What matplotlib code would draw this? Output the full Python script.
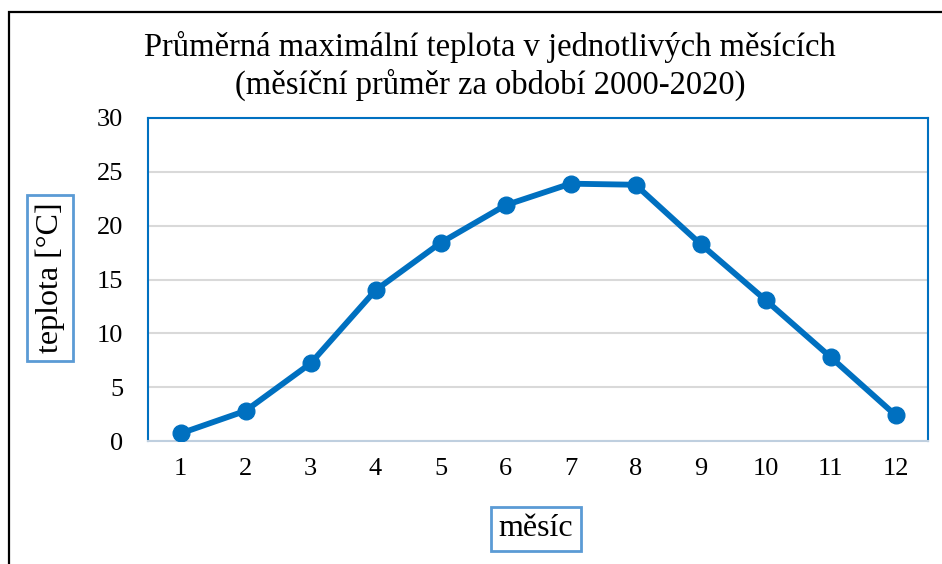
import numpy as np
import matplotlib.pyplot as plt
from matplotlib.patches import Rectangle

months = [1, 2, 3, 4, 5, 6, 7, 8, 9, 10, 11, 12]
tmax = [0.7, 2.8, 7.2, 14.0, 18.4, 21.9, 23.9, 23.8, 18.3, 13.1, 7.8, 2.4]
yticks = [0, 5, 10, 15, 20, 25, 30]

title = "Průměrná maximální teplota v jednotlivých měsících\n(měsíční průměr za období 2000-2020)"
xlabel = "měsíc"
ylabel = "teplota [°C]"

plt.rcParams["font.family"] = ["Liberation Serif", "DejaVu Serif"]

fig = plt.figure(figsize=(9.42, 5.64), dpi=100)
W, H = 942, 564
ax = fig.add_axes([148 / W, 1 - 441 / H, (928 - 148) / W, (441 - 118) / H])

ax.plot(months, tmax, color="#0070C0", linewidth=4.2, marker="o",
        markersize=12, solid_capstyle="round", zorder=3)

ax.set_xlim(0.5, 12.5)
ax.set_ylim(0, 30)
ax.set_xticks(months)
ax.set_yticks(yticks)
ax.tick_params(length=0, labelsize=19, pad=12)
ax.tick_params(axis="y", pad=18)
ax.grid(axis="y", color="#D9D9D9", linewidth=1.5)
ax.set_axisbelow(True)
for side in ["left", "top", "right"]:
    ax.spines[side].set_color("#0070C0")
    ax.spines[side].set_linewidth(1.5)
ax.spines["bottom"].set_color("#BFCFDF")
ax.spines["bottom"].set_linewidth(1.5)

fig.text(490 / W, 1 - 66 / H, title, ha="center", va="center", fontsize=23.5,
         linespacing=1.25)

box = dict(boxstyle="square,pad=0.25", facecolor="white", edgecolor="#5B9BD5", linewidth=2)
fig.text(50 / W, 1 - 278 / H, ylabel, rotation=90, ha="center", va="center",
         fontsize=23, bbox=box)
fig.text(536 / W, 1 - 529 / H, xlabel, ha="center", va="center",
         fontsize=23, bbox=box)

# outer chart border, cut off at right and bottom
fig.patches.append(Rectangle((9 / W, -0.1), 1.2, 1 - 12 / H + 0.1,
                             transform=fig.transFigure, fill=False,
                             edgecolor="black", linewidth=1.6))

fig.savefig("out.png", dpi=100)
